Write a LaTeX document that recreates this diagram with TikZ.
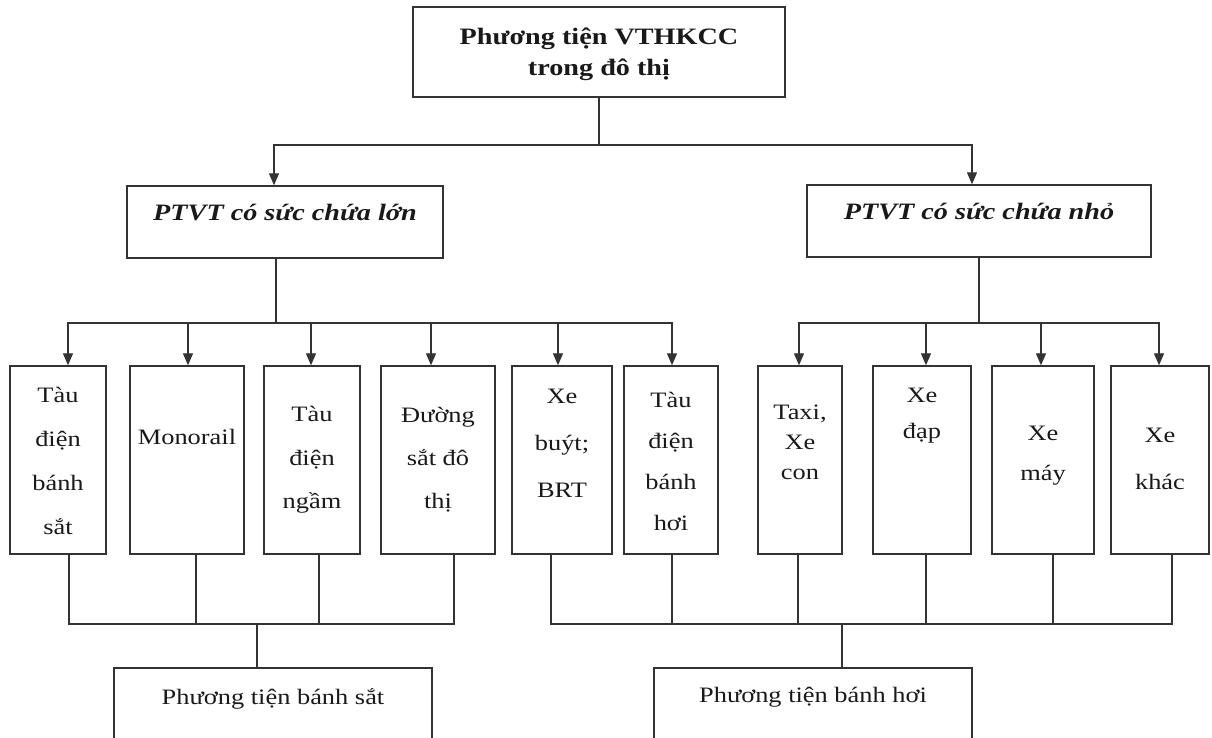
\documentclass[tikz,border=0pt]{standalone}
\usepackage{fontspec}
\setmainfont{Liberation Serif}[FakeStretch=1.2]
\usetikzlibrary{arrows.meta}
\definecolor{ink}{HTML}{333333}
\begin{document}
\begin{tikzpicture}[x=1pt,y=-1pt,
  box/.style={draw=ink, line width=1.4pt, rectangle, inner sep=0pt},
  conn/.style={draw=ink, line width=1.3pt},
  arr/.style={conn, -{Triangle[length=12pt,width=10pt]}},
  txt/.style={align=center, inner sep=0pt, text=black!90, font=\fontsize{22}{#1}\selectfont},
  txt/.default=44,
  btxt/.style={align=center, inner sep=0pt, text=black!90, font=\bfseries\fontsize{23.5}{31}\selectfont},
  bitxt/.style={align=center, inner sep=0pt, text=black!90, font=\bfseries\itshape\fontsize{23.5}{31}\selectfont},
]
\useasboundingbox (0,0) rectangle (1212,738);
\clip (0,0) rectangle (1212,738);

% boxes
\node[box, minimum width=372pt, minimum height=90pt] (top) at (599,52) {};
\node[box, minimum width=316pt, minimum height=72pt] (L) at (285,222) {};
\node[box, minimum width=344pt, minimum height=72pt] (R) at (979,221) {};

\node[box, minimum width=96pt,  minimum height=188pt] (b1) at (58,460) {};
\node[box, minimum width=114pt, minimum height=188pt] (b2) at (187,460) {};
\node[box, minimum width=96pt,  minimum height=188pt] (b3) at (312,460) {};
\node[box, minimum width=114pt, minimum height=188pt] (b4) at (438,460) {};
\node[box, minimum width=100pt, minimum height=188pt] (b5) at (562,460) {};
\node[box, minimum width=94pt,  minimum height=188pt] (b6) at (671,460) {};
\node[box, minimum width=84pt,  minimum height=188pt] (b7) at (800,460) {};
\node[box, minimum width=98pt,  minimum height=188pt] (b8) at (922,460) {};
\node[box, minimum width=102pt, minimum height=188pt] (b9) at (1043,460) {};
\node[box, minimum width=98pt,  minimum height=188pt] (b10) at (1160,460) {};

\node[box, minimum width=318pt, minimum height=82pt] (botL) at (273,709) {};
\node[box, minimum width=318pt, minimum height=82pt] (botR) at (813,709) {};

% texts
\node[btxt] (ttop) at ([yshift=-2pt]top.center) {Phương tiện VTHKCC\\trong đô thị};
\node[bitxt] (tL) at ([yshift=9pt]L.center) {PTVT có sức chứa lớn};
\node[bitxt] (tR) at ([yshift=9pt]R.center) {PTVT có sức chứa nhỏ};

\node[txt=44] (t1) at ([yshift=-1pt]b1.center) {Tàu\\điện\\bánh\\sắt};
\node[txt] (t2) at ([yshift=23pt]b2.center) {Monorail};
\node[txt=43.5] (t3) at (b3.center) {Tàu\\điện\\ngầm};
\node[txt=43] (t4) at (b4.center) {Đường\\sắt đô\\thị};
\node[txt=47] (t5) at ([yshift=17pt]b5.center) {Xe\\buýt;\\BRT};
\node[txt=41] (t6) at ([yshift=-1pt]b6.center) {Tàu\\điện\\bánh\\hơi};
\node[txt=30] (t7) at ([yshift=17.5pt]b7.center) {Taxi,\\Xe\\con};
\node[txt=36] (t8) at ([yshift=44.5pt]b8.center) {Xe\\đạp};
\node[txt=40] (t9) at ([yshift=4.5pt]b9.center) {Xe\\máy};
\node[txt=47] (t10) at ([yshift=1pt]b10.center) {Xe\\khác};

\node[txt] (tbl) at ([yshift=10pt]botL.center) {Phương tiện bánh sắt};
\node[txt] (tbr) at ([yshift=12pt]botR.center) {Phương tiện bánh hơi};

% level 1 connectors
\coordinate (tj) at (599,145);
\draw[conn] (top.south) -- (tj);
\draw[arr] (tj) -| ([xshift=-11pt]L.north);
\draw[arr] (tj) -| ([xshift=-7pt]R.north);

% level 2 left
\coordinate (lj) at (276,323);
\draw[conn] ([xshift=-9pt]L.south) -- (lj);
\draw[arr] (lj) -| ([xshift=10pt]b1.north);
\draw[arr] (lj) -| ([xshift=1pt]b2.north);
\draw[arr] (lj) -| ([xshift=-1pt]b3.north);
\draw[arr] (lj) -| ([xshift=-7pt]b4.north);
\draw[arr] (lj) -| ([xshift=-4pt]b5.north);
\draw[arr] (lj) -| ([xshift=1pt]b6.north);

% level 2 right
\coordinate (rj) at (979,323);
\draw[conn] (R.south) -- (rj);
\draw[arr] (rj) -| ([xshift=-1pt]b7.north);
\draw[arr] (rj) -| ([xshift=4pt]b8.north);
\draw[arr] (rj) -| ([xshift=-2pt]b9.north);
\draw[arr] (rj) -| ([xshift=-1pt]b10.north);

% bottom left bus
\coordinate (bl) at (257,624);
\draw[conn] ([xshift=11pt]b1.south) |- (bl);
\draw[conn] ([xshift=16pt]b4.south) |- (bl);
\draw[conn] ([xshift=9pt]b2.south) -- ([xshift=9pt]b2.south |- bl);
\draw[conn] ([xshift=7pt]b3.south) -- ([xshift=7pt]b3.south |- bl);
\draw[conn] (bl) -- ([xshift=-16pt]botL.north);

% bottom right bus
\coordinate (br) at (842,624);
\draw[conn] ([xshift=-11pt]b5.south) |- (br);
\draw[conn] ([xshift=12pt]b10.south) |- (br);
\draw[conn] ([xshift=1pt]b6.south) -- ([xshift=1pt]b6.south |- br);
\draw[conn] ([xshift=-2pt]b7.south) -- ([xshift=-2pt]b7.south |- br);
\draw[conn] ([xshift=4pt]b8.south) -- ([xshift=4pt]b8.south |- br);
\draw[conn] ([xshift=10pt]b9.south) -- ([xshift=10pt]b9.south |- br);
\draw[conn] (br) -- ([xshift=29pt]botR.north);
\end{tikzpicture}
\end{document}
